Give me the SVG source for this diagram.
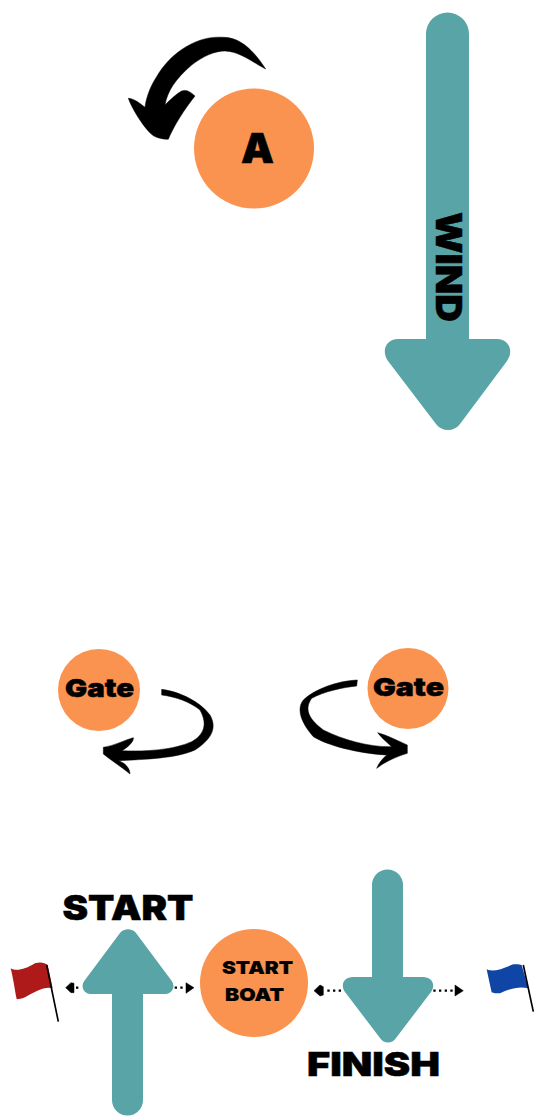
<svg xmlns="http://www.w3.org/2000/svg" width="535" height="1116" viewBox="0 0 535 1116">
<style>
.circle{fill:#fb9350}
.teal{fill:#58a4a6}
.t{font-family:Inter,"Liberation Sans",Arial,sans-serif;font-weight:900;fill:#000;stroke:#000;stroke-width:.5;text-anchor:middle}
.ink{fill:#000;stroke:#000;stroke-width:1.500;stroke-linejoin:round}
.dot{stroke:#000;stroke-width:7;stroke-dasharray:7 10;fill:none}
.pole{fill:none;stroke:#000;stroke-width:5}
</style>
<rect width="535" height="1116" fill="#fff"/>
<g id="connectors">
<g id="wind-arrow">
<path class="teal" d="M426 34a21.500 21.500 0 0 1 43 0V339H497C509 339 514 351 507 361L460 424C454 432 442 432 436 424L388 361C381 351 386 339 398 339H426Z"/>
<text class="t" font-size="36" transform="translate(436 267) rotate(90)" textLength="110" lengthAdjust="spacingAndGlyphs">WIND</text>
</g>
<path id="start-arrow" class="teal" d="M112 994H92C83 994 80 986 85 980L120 933C124 928 132 928 136 933L171 980C176 986 173 994 164 994H143V1100a15.500 15.500 0 0 1-31 0Z"/>
<path id="finish-arrow" class="teal" d="M372 885a15.500 15.500 0 0 1 31 0V977H423C432 977 436 985 431 992L396 1038C392 1044 384 1044 380 1038L345 992C340 985 344 977 353 977H372Z"/>
<path id="a-turn" class="ink" transform="translate(110 20) scale(.3333)" d="M467 147C430 90 390 52 340 52C260 45 180 100 140 170C120 200 108 235 105 262C90 250 72 236 55 235C65 265 105 330 130 347C145 356 160 357 175 358C190 320 225 265 255 228C240 214 228 208 215 213C198 222 180 240 165 255C172 215 195 178 245 135C280 108 315 93 345 93C390 95 425 125 467 147Z"/>
<path id="gate-left-turn" class="ink" transform="translate(40 640) scale(.3333)" d="M365 148C420 155 480 185 510 225C530 260 520 295 465 330C410 355 320 358 235 362C255 368 270 385 270 402C250 385 215 362 190 342L190 322C220 318 255 300 280 293C283 305 260 325 245 332C320 335 400 330 455 305C490 285 505 255 480 210C450 185 405 170 365 165Z"/>
<path id="gate-right-turn" class="ink" transform="translate(280 640) scale(.3333)" d="M232 120C170 122 100 150 70 180C50 205 60 245 100 290C140 315 230 340 320 345C305 358 295 372 290 385C315 365 350 350 382 340L382 315C355 303 320 285 293 278C305 295 325 310 335 320C270 322 190 300 130 270C90 240 70 210 95 175C130 155 190 142 230 138Z"/>
<g id="flag-arrows-left" transform="translate(0 880) scale(.3333)">
<path class="dot" d="M228 323H245"/><path class="ink" d="M197 323L213 308L222 310V338L213 338Z"/>
<path class="dot" d="M524 323H552"/><path class="ink" d="M558 308L582 323L558 340Z"/>
</g>
<g id="flag-arrows-right" transform="translate(270 930) scale(.3333)">
<path class="dot" d="M172 182H218"/><path class="ink" d="M132 182L150 165L160 170V195L150 198Z"/>
<path class="dot" d="M490 182H548"/><path class="ink" d="M555 165L580 182L555 198Z"/>
</g>
</g>
<g id="node-a"><circle class="circle" cx="254" cy="148.500" r="60"/><text class="t" x="257.500" y="163" font-size="41.500">A</text></g>
<g id="node-gate-left"><circle class="circle" cx="99" cy="690" r="41"/><text class="t" x="99.500" y="697" font-size="25" textLength="69" lengthAdjust="spacingAndGlyphs">Gate</text></g>
<g id="node-gate-right"><circle class="circle" cx="408" cy="688.500" r="40.500"/><text class="t" x="408.500" y="696" font-size="25" textLength="71" lengthAdjust="spacingAndGlyphs">Gate</text></g>
<g id="node-start-boat"><circle class="circle" cx="254" cy="983" r="54"/><text class="t" x="257.500" y="974" font-size="18" textLength="71" lengthAdjust="spacingAndGlyphs" style="stroke-width:.2">START</text><text class="t" x="254.500" y="1001" font-size="18" textLength="59" lengthAdjust="spacingAndGlyphs" style="stroke-width:.2">BOAT</text></g>
<g id="label-start"><text class="t" x="128" y="920" font-size="34" textLength="131" lengthAdjust="spacingAndGlyphs">START</text></g>
<g id="label-finish"><text class="t" x="373.500" y="1076" font-size="33" textLength="133" lengthAdjust="spacingAndGlyphs">FINISH</text></g>
<g id="flag-red" transform="translate(0 880) scale(.3333)"><path fill="#ae1a1a" d="M32 265C50 275 75 268 105 250C120 245 135 248 143 255L158 325C135 318 105 335 75 352C60 358 50 358 50 357C45 335 40 295 32 265Z"/><path class="pole" d="M140 255L175 425"/></g>
<g id="flag-blue" transform="translate(270 930) scale(.3333)"><path fill="#0f45a5" d="M650 118C670 128 700 115 730 103C740 102 750 103 755 105L775 175C750 168 720 175 690 190C680 190 670 190 665 187C660 165 655 140 650 118Z"/><path class="pole" d="M760 105L790 245"/></g>
</svg>
